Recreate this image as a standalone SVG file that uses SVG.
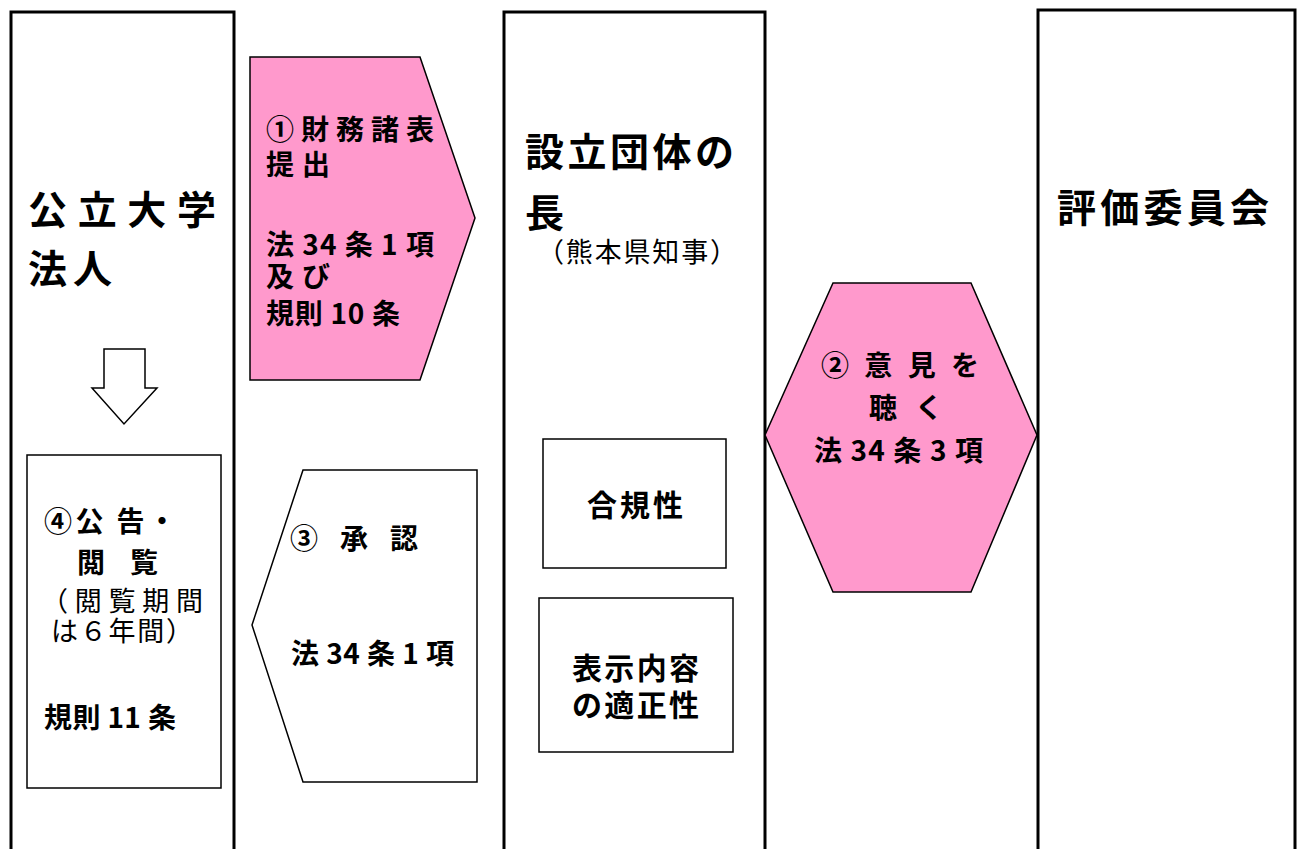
<svg xmlns="http://www.w3.org/2000/svg" width="1303" height="849" viewBox="0 0 1303 849">
<style>
.col{fill:#fff;stroke:#000;stroke-width:3}
.box{fill:#fff;stroke:#000;stroke-width:1.5}
.pink{fill:#ff99cc;stroke:#000;stroke-width:1.5}
.wh{fill:#fff;stroke:#000;stroke-width:1.5}
text{font-family:"Noto Sans CJK JP","Noto Sans CJK SC",sans-serif;fill:#000}
.big{font-size:39px;font-weight:bold}
.mid{font-size:28px;font-weight:bold}
.reg{font-size:27px;font-weight:normal}
.m30{font-size:30px;font-weight:bold}
</style>
<rect width="1303" height="849" fill="#fff"/>
<g id="col-univ">
<path class="col" d="M11,860 V12 H234 V860"/>
<text class="big" x="28" y="224" textLength="188" lengthAdjust="spacing">公立大学</text>
<text class="big" x="28" y="283" textLength="84" lengthAdjust="spacing">法人</text>
</g>
<g id="col-gov">
<path class="col" d="M504,860 V12 H765 V860"/>
<text class="big" x="525" y="166" textLength="209" lengthAdjust="spacing">設立団体の</text>
<text class="big" x="525" y="227">長</text>
<text class="reg" x="537" y="262" textLength="200" lengthAdjust="spacing">（熊本県知事）</text>
</g>
<g id="col-eval">
<path class="col" d="M1038,860 V10 H1295 V860"/>
<text class="big" x="1057" y="222" textLength="212" lengthAdjust="spacing">評価委員会</text>
</g>
<g id="connectors">
<path class="wh" d="M104,349 H145 V388 H157 L124,424 L92,388 H104 Z"/>
</g>
<g id="step1">
<polygon class="pink" points="250,57 420,57 475,218 420,380 250,380"/>
<text class="mid" x="266" y="140" textLength="168" lengthAdjust="spacing">①財務諸表</text>
<text class="mid" x="266" y="175" textLength="64" lengthAdjust="spacing">提出</text>
<text class="mid" x="266" y="255" textLength="168" lengthAdjust="spacing">法 34 条 1 項</text>
<text class="mid" x="266" y="287" textLength="64" lengthAdjust="spacing">及び</text>
<text class="mid" x="266" y="324" textLength="134" lengthAdjust="spacing">規則 10 条</text>
</g>
<g id="step2">
<polygon class="pink" points="833,283 971,283 1037,435 971,592 833,592 765,435"/>
<text class="mid" x="821" y="376" textLength="158" lengthAdjust="spacing">② 意 見 を</text>
<text class="mid" x="869" y="418" textLength="74" lengthAdjust="spacing">聴 く</text>
<text class="mid" x="814" y="461" textLength="169" lengthAdjust="spacing">法 34 条 3 項</text>
</g>
<g id="step3">
<polygon class="wh" points="303,470 477,470 477,782 303,782 252,625"/>
<text class="mid" x="290" y="549" textLength="128" lengthAdjust="spacing">③ 承 認</text>
<text class="mid" x="291" y="664" textLength="163" lengthAdjust="spacing">法 34 条 1 項</text>
</g>
<g id="step4">
<rect class="box" x="27" y="455" width="194" height="333"/>
<text class="mid" x="44" y="532" textLength="132" lengthAdjust="spacing">④公 告・</text>
<text class="mid" x="77" y="573" textLength="81" lengthAdjust="spacing">閲 覧</text>
<text class="reg" x="41" y="611" textLength="162" lengthAdjust="spacing">（閲覧期間</text>
<text class="reg" x="51" y="641" textLength="142" lengthAdjust="spacing">は６年間）</text>
<text class="mid" x="44" y="728" textLength="132" lengthAdjust="spacing">規則 11 条</text>
</g>
<g id="check1">
<rect class="box" x="543" y="439" width="183" height="129"/>
<text class="m30" x="587" y="516" textLength="96" lengthAdjust="spacing">合規性</text>
</g>
<g id="check2">
<rect class="box" x="539" y="598" width="194" height="154"/>
<text class="m30" x="572" y="679" textLength="127" lengthAdjust="spacing">表示内容</text>
<text class="m30" x="572" y="716" textLength="127" lengthAdjust="spacing">の適正性</text>
</g>
</svg>
